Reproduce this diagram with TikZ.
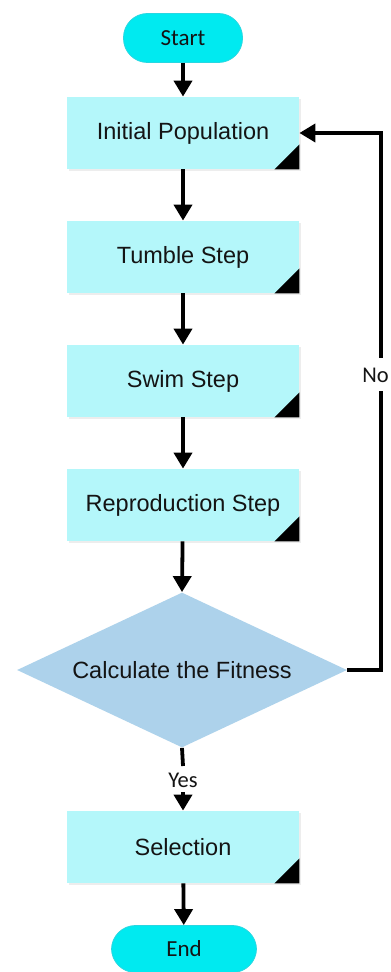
\documentclass[tikz,border=0pt]{standalone}
\usepackage{fontspec}
\setmainfont{Liberation Sans}
\newfontfamily\carl{Carlito}
\usetikzlibrary{shapes.geometric,arrows.meta}
\definecolor{boxfill}{RGB}{180,247,250}
\definecolor{diafill}{RGB}{173,210,235}
\definecolor{termfill}{RGB}{0,234,240}
\definecolor{termdraw}{RGB}{40,215,225}
\definecolor{txt}{RGB}{20,20,20}
\tikzset{
  stepbox/.style={rectangle, fill=boxfill, minimum width=116pt, minimum height=36pt, inner sep=0pt, font=\fontsize{11.75}{14}\selectfont, text=txt},
  term/.style={rectangle, rounded corners=12pt, fill=termfill, draw=termdraw, line width=0.4pt, inner sep=0pt, font=\carl\fontsize{11.5}{14}\selectfont, text=txt},
  decision/.style={diamond, aspect=2.13, fill=diafill, inner sep=0pt, minimum width=165pt, minimum height=77.5pt, font=\fontsize{11.75}{14}\selectfont, text=txt},
  lbl/.style={inner sep=0pt, font=\carl\fontsize{11.25}{13}\selectfont, text=txt},
  flow/.style={line width=1.9pt, -{Triangle[width=9pt,length=8pt]}},
  plain/.style={line width=1.9pt}
}
\newcommand{\corner}[1]{\fill[black] (#1.south east) -- ++(-25,0) -- ++(25,-25) -- cycle;}
\begin{document}
\begin{tikzpicture}[x=0.5pt,y=-0.5pt]
\useasboundingbox (0,0) rectangle (390,972);
\fill[white] (0,0) rectangle (390,972);
% shadows
\foreach \cy in {133,257,381,505,847}{
  \fill[black!7] (69,\cy-34) rectangle (301,\cy+38);
}
\node[term, minimum width=59.5pt, minimum height=24.5pt] (start) at (183,38) {Start};
\node[stepbox] (init) at (183,133) {Initial Population};
\node[stepbox] (tumble) at (183,257) {Tumble Step};
\node[stepbox] (swim) at (183,381) {Swim Step};
\node[stepbox] (repro) at (183,505) {Reproduction Step};
\node[decision] (fit) at (182,670) {Calculate the Fitness};
\node[lbl] (yes) at (183,780) {Yes};
\node[stepbox] (sel) at (183,847) {Selection};
\node[term, minimum width=72.5pt, minimum height=23.5pt] (end) at (184,949) {End};
\node[lbl, anchor=west] (no) at (362,375) {No};
\coordinate (nobot) at (381,391);
\coordinate (notop) at (381,358);
\coordinate (cr) at (381,670);
\coordinate (ct) at (381,133);
\coordinate (yestop) at (183,766);
\coordinate (yesbot) at (183,792);
\corner{init}
\corner{tumble}
\corner{swim}
\corner{repro}
\corner{sel}
\draw[flow] (start) -- (init);
\draw[flow] (init) -- (tumble);
\draw[flow] (tumble) -- (swim);
\draw[flow] (swim) -- (repro);
\draw[flow] (repro) -- (fit.north);
\draw[plain] (fit.south) -- (yestop);
\draw[flow] (yesbot) -- (sel);
\draw[flow] (sel) -- (end);
\draw[plain] (fit.east) -- (cr) -- (nobot);
\draw[flow] (notop) -- (ct) -- (init.east);
\end{tikzpicture}
\end{document}
